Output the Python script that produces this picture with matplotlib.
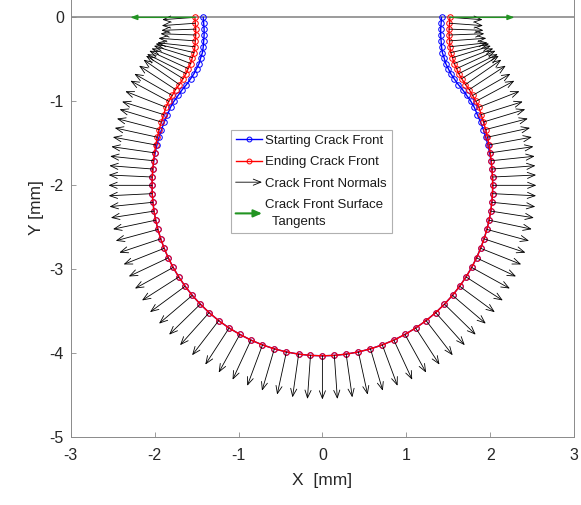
import numpy as np
import matplotlib
matplotlib.use('Agg')
import matplotlib.pyplot as plt
from matplotlib.legend_handler import HandlerPatch
from matplotlib.patches import FancyArrowPatch
from matplotlib.lines import Line2D

plt.rcParams['font.family'] = ['Liberation Sans', 'DejaVu Sans']
plt.rcParams['axes.unicode_minus'] = False

# Crack front points [mm], from the left surface point round to the right one
start_x = [-1.42, -1.415, -1.41, -1.41, -1.415, -1.42, -1.43, -1.45, -1.47, -1.50,
           -1.53, -1.57, -1.62, -1.67, -1.72, -1.77, -1.81, -1.847, -1.885, -1.918,
           -1.947, -1.972, -1.993, -2.009, -2.021, -2.028, -2.030, -2.028, -2.020, -2.007,
           -1.987, -1.961, -1.927, -1.886, -1.837, -1.779, -1.712, -1.636, -1.551, -1.455,
           -1.350, -1.236, -1.112, -0.984, -0.852, -0.714, -0.573, -0.429, -0.283, -0.142,
           0.0,
           0.142, 0.283, 0.429, 0.573, 0.714, 0.852, 0.984, 1.112, 1.236, 1.350,
           1.455, 1.551, 1.636, 1.712, 1.779, 1.837, 1.886, 1.927, 1.961, 1.987,
           2.007, 2.020, 2.028, 2.030, 2.028, 2.021, 2.009, 1.993, 1.972, 1.947,
           1.918, 1.885, 1.847, 1.81, 1.77, 1.72, 1.67, 1.62, 1.57, 1.53,
           1.50, 1.47, 1.45, 1.43, 1.42, 1.415, 1.41, 1.41, 1.415, 1.42]

front_y = [0.00, -0.07, -0.14, -0.21, -0.28, -0.35, -0.42, -0.48, -0.55, -0.61,
           -0.67, -0.73, -0.80, -0.86, -0.93, -1.00, -1.07, -1.158, -1.246, -1.336,
           -1.427, -1.519, -1.613, -1.707, -1.806, -1.901, -2.000, -2.099, -2.202, -2.307,
           -2.415, -2.525, -2.637, -2.750, -2.864, -2.978, -3.091, -3.202, -3.310, -3.415,
           -3.516, -3.611, -3.699, -3.775, -3.843, -3.900, -3.947, -3.984, -4.010, -4.025,
           -4.030,
           -4.025, -4.010, -3.984, -3.947, -3.900, -3.843, -3.775, -3.699, -3.611, -3.516,
           -3.415, -3.310, -3.202, -3.091, -2.978, -2.864, -2.750, -2.637, -2.525, -2.415,
           -2.307, -2.202, -2.099, -2.000, -1.901, -1.806, -1.707, -1.613, -1.519, -1.427,
           -1.336, -1.246, -1.158, -1.07, -1.00, -0.93, -0.86, -0.80, -0.73, -0.67,
           -0.61, -0.55, -0.48, -0.42, -0.35, -0.28, -0.21, -0.14, -0.07, 0.00]

end_x = [-1.52, -1.515, -1.51, -1.51, -1.515, -1.52, -1.53, -1.55, -1.57, -1.60,
         -1.625, -1.66, -1.705, -1.75, -1.79, -1.83, -1.865, -1.892, -1.92, -1.946,
         -1.967, -1.986, -2.001, -2.013, -2.021, -2.028, -2.030, -2.028, -2.020, -2.007,
         -1.987, -1.961, -1.927, -1.886, -1.837, -1.779, -1.712, -1.636, -1.551, -1.455,
         -1.350, -1.236, -1.112, -0.984, -0.852, -0.714, -0.573, -0.429, -0.283, -0.142,
         0.0,
         0.142, 0.283, 0.429, 0.573, 0.714, 0.852, 0.984, 1.112, 1.236, 1.350,
         1.455, 1.551, 1.636, 1.712, 1.779, 1.837, 1.886, 1.927, 1.961, 1.987,
         2.007, 2.020, 2.028, 2.030, 2.028, 2.021, 2.013, 2.001, 1.986, 1.967,
         1.946, 1.920, 1.892, 1.865, 1.83, 1.79, 1.75, 1.705, 1.66, 1.625,
         1.60, 1.57, 1.55, 1.53, 1.52, 1.515, 1.51, 1.51, 1.515, 1.52]

# in-plane length of each normal arrow [mm] (shorter near the free surface)
normal_len = [0.39, 0.40, 0.41, 0.42, 0.44, 0.45, 0.47, 0.48, 0.50, 0.51,
              0.52, 0.52, 0.52, 0.52, 0.52, 0.52, 0.52, 0.52, 0.52, 0.52,
              0.52, 0.52, 0.52, 0.52, 0.52, 0.52, 0.52, 0.52, 0.52, 0.52,
              0.52, 0.52, 0.52, 0.52, 0.52, 0.52, 0.52, 0.52, 0.52, 0.52,
              0.52, 0.52, 0.52, 0.52, 0.52, 0.52, 0.52, 0.52, 0.52, 0.52,
              0.52,
              0.52, 0.52, 0.52, 0.52, 0.52, 0.52, 0.52, 0.52, 0.52, 0.52,
              0.52, 0.52, 0.52, 0.52, 0.52, 0.52, 0.52, 0.52, 0.52, 0.52,
              0.52, 0.52, 0.52, 0.52, 0.52, 0.52, 0.52, 0.52, 0.52, 0.52,
              0.52, 0.52, 0.52, 0.52, 0.52, 0.52, 0.52, 0.52, 0.52, 0.52,
              0.51, 0.50, 0.48, 0.47, 0.45, 0.44, 0.42, 0.41, 0.40, 0.39]
tangent_len = 0.77   # mm


class ArrowHandler(HandlerPatch):
    def create_artists(self, legend, orig_handle, xdescent, ydescent,
                       width, height, fontsize, trans):
        y = height / 2 - ydescent
        a = FancyArrowPatch((-xdescent, y), (-xdescent + width, y),
                            arrowstyle=orig_handle.get_arrowstyle(),
                            mutation_scale=orig_handle.get_mutation_scale(),
                            color=orig_handle.get_edgecolor(),
                            lw=orig_handle.get_linewidth(),
                            shrinkA=0, shrinkB=0)
        a.set_transform(trans)
        return [a]


fig = plt.figure(figsize=(5.81, 5.05), dpi=100)
ax = fig.add_axes([0.1217, 0.1341, 0.8664, 0.8731])

grey = '#8a8a8a'
green = '#229422'
norm_style = '->,head_length=0.55,head_width=0.22'
tan_style = '-|>,head_length=0.4,head_width=0.15'

ax.plot([-3, 3], [0, 0], color=grey, lw=1.2, zorder=1)

ax.plot(start_x, front_y, '-o', color='b', lw=1.0, ms=4, mew=0.7,
        mfc='none', zorder=2)
ax.plot(end_x, front_y, '-o', color='r', lw=1.0, ms=4, mew=0.7,
        mfc='none', zorder=3)

# outward normals of the ending front
ex = np.array(end_x)
ey = np.array(front_y)
tx = np.gradient(ex)
ty = np.gradient(ey)
tn = np.hypot(tx, ty)
nx, ny = ty / tn, -tx / tn
for x0, y0, ux, uy, L in zip(ex, ey, nx, ny, normal_len):
    ax.annotate('', xy=(x0 + L * ux, y0 + L * uy), xytext=(x0, y0),
                arrowprops=dict(arrowstyle=norm_style, color='k', lw=0.6,
                                shrinkA=0, shrinkB=0), zorder=4)

# surface tangents at the two free-surface points
for x0, s in [(end_x[0], -1), (end_x[-1], 1)]:
    ax.annotate('', xy=(x0 + s * tangent_len, 0), xytext=(x0, 0),
                arrowprops=dict(arrowstyle=tan_style, color=green, lw=1.0,
                                shrinkA=0, shrinkB=0), zorder=5)

ax.set_xlim(-3, 3)
ax.set_ylim(-5, 0.25)
ax.set_xticks([-3, -2, -1, 0, 1, 2, 3])
ax.set_yticks([-5, -4, -3, -2, -1, 0])
ax.tick_params(direction='in', length=3.5, width=0.6, color=grey,
               labelsize=11.5, labelcolor='#262626')
ax.tick_params(axis='x', pad=8)
ax.tick_params(axis='y', pad=5)
for s in ['left', 'bottom', 'right']:
    ax.spines[s].set_color(grey)
    ax.spines[s].set_linewidth(0.7)
ax.spines['top'].set_visible(False)

ax.set_xlabel('X  [mm]', fontsize=12.5, color='#262626')
ax.set_ylabel('Y [mm]', fontsize=12.5, color='#262626')
ax.xaxis.set_label_coords(0.5, -0.082)
ax.yaxis.set_label_coords(-0.053, 0.522)

h_start = Line2D([], [], color='b', marker='o', ms=3.5, mew=0.7, mfc='none', lw=1.0)
h_end = Line2D([], [], color='r', marker='o', ms=3.5, mew=0.7, mfc='none', lw=1.0)
h_norm = FancyArrowPatch((0, 0), (1, 0), arrowstyle=norm_style, color='k',
                         lw=0.6, mutation_scale=10)
h_tan = FancyArrowPatch((0, 0), (1, 0), arrowstyle='-|>,head_length=0.5,head_width=0.22',
                        color=green, lw=1.5, mutation_scale=10)

leg = ax.legend([h_start, h_end, h_norm, h_tan],
                ['Starting Crack Front', 'Ending Crack Front', 'Crack Front Normals',
                 'Crack Front Surface\n  Tangents'],
                handler_map={h_norm: ArrowHandler(), h_tan: ArrowHandler()},
                loc='upper left', bbox_to_anchor=(231 / 581, 375 / 505),
                bbox_transform=fig.transFigure, fontsize=9.5, frameon=True,
                fancybox=False, framealpha=1, edgecolor='#b0b0b0',
                handlelength=2.0, handletextpad=0.25, labelspacing=0.7,
                borderpad=0.35, borderaxespad=0)
leg.get_frame().set_linewidth(0.8)
for t in leg.get_texts():
    t.set_color('#1a1a1a')
    t.set_linespacing(1.55)

fig.savefig('out.png', dpi=100)
